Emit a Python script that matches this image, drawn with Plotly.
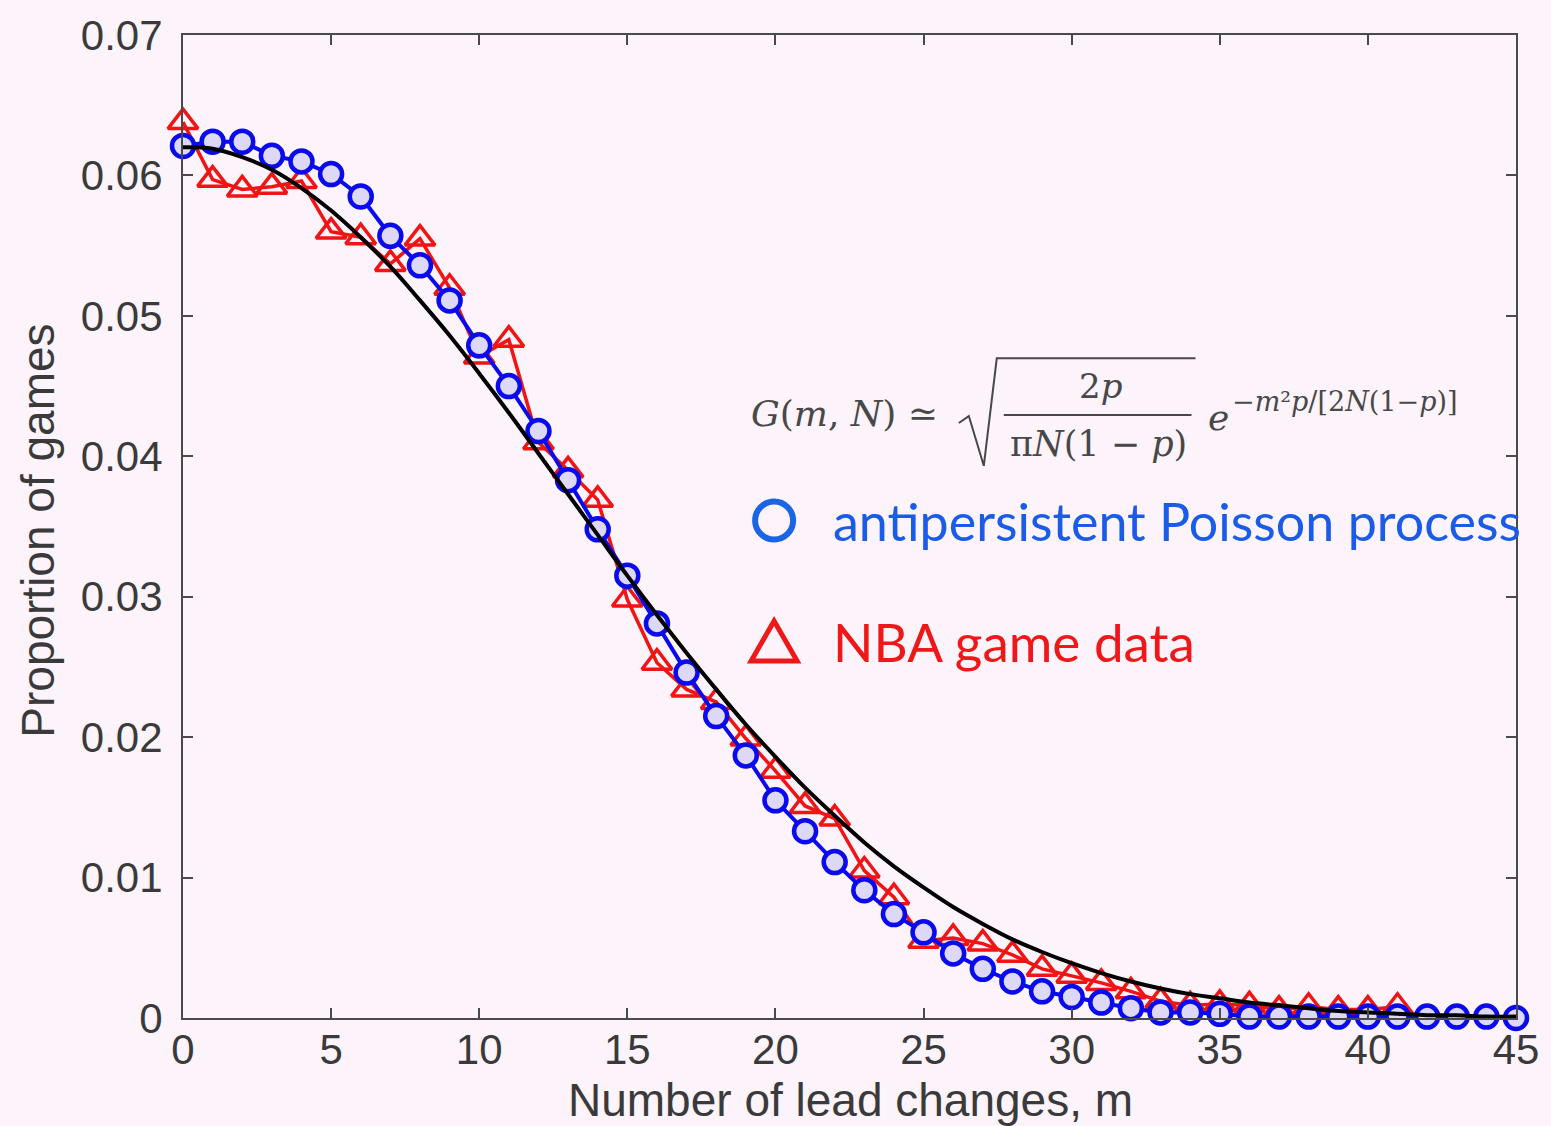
import plotly.graph_objects as go

# ---------------- data ----------------
m_blue = list(range(0, 46))
poisson = [0.0621, 0.0624, 0.0624, 0.0614, 0.0610, 0.0601, 0.0585, 0.0557, 0.0536, 0.0511,
           0.0479, 0.0450, 0.0418, 0.0383, 0.0348, 0.0315, 0.0281, 0.0246, 0.0215, 0.0187,
           0.0155, 0.0133, 0.0111, 0.0091, 0.0074, 0.0061, 0.0046, 0.0035, 0.0026, 0.0019,
           0.0015, 0.0011, 0.0007, 0.0004, 0.0004, 0.0003, 0.0001, 0.0001, 0.0001, 0.0001,
           0.0001, 0.0001, 0.0001, 0.0001, 0.0001, 0.0000]

m_red = list(range(0, 42))
nba = [0.0638, 0.0597, 0.0590, 0.0592, 0.0596, 0.0560, 0.0556, 0.0537, 0.0555, 0.0520,
       0.0471, 0.0483, 0.0410, 0.0390, 0.0369, 0.0298, 0.0253, 0.0234, 0.0225, 0.0199,
       0.0176, 0.0151, 0.0142, 0.0105, 0.0086, 0.0055, 0.0057, 0.0053, 0.0045, 0.0035,
       0.0030, 0.0025, 0.0019, 0.0012, 0.0009, 0.0010, 0.0009, 0.0006, 0.0008, 0.0006,
       0.0006, 0.0008]

m_fit = list(range(0, 46))
fit = [0.0620, 0.0619, 0.0613, 0.0604, 0.0591, 0.0575, 0.0556, 0.0535, 0.0511, 0.0486,
       0.0459, 0.0431, 0.0402, 0.0373, 0.0344, 0.0315, 0.0287, 0.0260, 0.0234, 0.0209,
       0.0186, 0.0164, 0.0144, 0.0125, 0.0108, 0.0093, 0.0079, 0.0067, 0.0056, 0.0047,
       0.0039, 0.0032, 0.0026, 0.0021, 0.0017, 0.0014, 0.0011, 0.0009, 0.0007, 0.0005,
       0.0004, 0.0003, 0.0002, 0.0002, 0.0001, 0.0001]

x_ticks = [0, 5, 10, 15, 20, 25, 30, 35, 40, 45]
y_ticks = [0, 0.01, 0.02, 0.03, 0.04, 0.05, 0.06, 0.07]
y_tick_text = ["0", "0.01", "0.02", "0.03", "0.04", "0.05", "0.06", "0.07"]

# ---------------- layout helpers ----------------
W, H = 1551, 1126
L, R, T, B = 183, 33, 30, 108
PW, PH = W - L - R, H - T - B


def px(xp):
    return (xp - L) / PW


def py(yp):
    return (H - B - yp) / PH


BG = "#fdf3fa"
AXC = "#4a4a4a"
TXT = "#3a3a3a"
BLUE = "#0a0aee"
RED = "#f01414"
SANS = "Liberation Sans, Arial, sans-serif"

fig = go.Figure()

fig.add_trace(go.Scatter(
    x=m_red, y=nba, mode="lines+markers", cliponaxis=False,
    line=dict(color=RED, width=3.5),
    marker=dict(symbol="triangle-up-open", size=26, color=RED, line=dict(width=3.5, color=RED)),
    showlegend=False))

fig.add_trace(go.Scatter(
    x=m_blue, y=poisson, mode="lines+markers", cliponaxis=False,
    line=dict(color=BLUE, width=4),
    marker=dict(symbol="circle", size=22, color="#ddd8f6", line=dict(width=4.5, color=BLUE)),
    showlegend=False))

fig.add_trace(go.Scatter(
    x=m_fit, y=fit, mode="lines", cliponaxis=False, line_shape="spline",
    line=dict(color="#000000", width=4),
    showlegend=False))

axis_common = dict(
    showline=True, linecolor=AXC, linewidth=2, mirror="ticks",
    ticks="inside", ticklen=10, tickwidth=1.5, tickcolor=AXC,
    showgrid=False, zeroline=False,
    tickfont=dict(family=SANS, size=42, color=TXT),
)

fig.update_xaxes(range=[0, 45], tickmode="array", tickvals=x_ticks,
                 ticklabelstandoff=-6, **axis_common)
fig.update_yaxes(range=[0, 0.07], tickmode="array", tickvals=y_ticks, ticktext=y_tick_text,
                 ticklabelstandoff=10, **axis_common)

serif = "DejaVu Serif, Liberation Serif, serif"
legend_font = "Lato, Open Sans, sans-serif"
FCOL = "#484848"

annotations = [
    # axis titles
    dict(x=px(852), y=py(1100), xref="paper", yref="paper", text="Number of lead changes, m",
         showarrow=False, font=dict(family=SANS, size=46, color=TXT),
         xanchor="center", yanchor="middle"),
    dict(x=px(38), y=py(528), xref="paper", yref="paper", text="Proportion of games",
         showarrow=False, textangle=-90, font=dict(family=SANS, size=46, color=TXT),
         xanchor="center", yanchor="middle"),
    # formula
    dict(x=px(750), y=py(410), xref="paper", yref="paper",
         text="<i>G</i>(<i>m</i>, <i>N</i>) ≃", showarrow=False,
         font=dict(family=serif, size=36, color=FCOL), xanchor="left", yanchor="middle"),
    dict(x=px(1102), y=py(383), xref="paper", yref="paper", text="2<i>p</i>", showarrow=False,
         font=dict(family=serif, size=34, color=FCOL), xanchor="center", yanchor="middle"),
    dict(x=px(1100), y=py(441), xref="paper", yref="paper",
         text="π<i>N</i>(1 − <i>p</i>)", showarrow=False,
         font=dict(family=serif, size=35, color=FCOL), xanchor="center", yanchor="middle"),
    dict(x=px(1208), y=py(414), xref="paper", yref="paper", text="<i>e</i>", showarrow=False,
         font=dict(family=serif, size=36, color=FCOL), xanchor="left", yanchor="middle"),
    dict(x=px(1232), y=py(398), xref="paper", yref="paper",
         text="−<i>m</i>²<i>p</i>/[2<i>N</i>(1−<i>p</i>)]", showarrow=False,
         font=dict(family=serif, size=27, color=FCOL), xanchor="left", yanchor="middle"),
    # legend texts
    dict(x=px(832), y=py(518), xref="paper", yref="paper",
         text="antipersistent Poisson process", showarrow=False,
         font=dict(family=legend_font, size=52, color="#1a5ce8"), xanchor="left", yanchor="middle"),
    dict(x=px(832), y=py(640), xref="paper", yref="paper",
         text="NBA game data", showarrow=False,
         font=dict(family=legend_font, size=53, color="#ee1818"), xanchor="left", yanchor="middle"),
]

shapes = [
    # square-root radical
    dict(type="path", xref="paper", yref="paper",
         path=f"M {px(960)},{py(420)} L {px(970)},{py(413)} L {px(985)},{py(463)} "
              f"L {px(998)},{py(355)} L {px(1197)},{py(355)}",
         line=dict(color=FCOL, width=2)),
    # fraction bar
    dict(type="line", xref="paper", yref="paper", x0=px(1005), x1=px(1193), y0=py(412), y1=py(412),
         line=dict(color=FCOL, width=2)),
    # legend circle
    dict(type="circle", xref="paper", yref="paper", xsizemode="pixel", ysizemode="pixel",
         xanchor=px(775), yanchor=py(518), x0=-19, x1=19, y0=-19, y1=19,
         line=dict(color="#1a64e6", width=6)),
    # legend triangle
    dict(type="path", xref="paper", yref="paper", xsizemode="pixel", ysizemode="pixel",
         xanchor=px(775), yanchor=py(640),
         path="M -23,-19 L 23,-19 L 0,21 Z",
         line=dict(color="#ee1818", width=5)),
]

fig.update_layout(
    width=W, height=H,
    margin=dict(l=L, r=R, t=T, b=B),
    paper_bgcolor=BG, plot_bgcolor=BG,
    annotations=annotations, shapes=shapes,
    showlegend=False,
)

fig.write_html("out.html")
